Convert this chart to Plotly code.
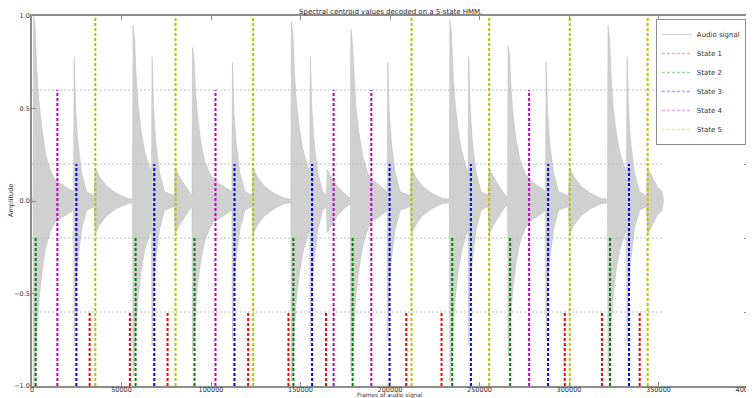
import plotly.graph_objects as go

# ---------------- data ----------------
title = "Spectral centroid values decoded on a 5-state HMM."
x_label = "Frames of audio signal"
y_label = "Amplitude"

x_ticks = [0, 50000, 100000, 150000, 200000, 250000, 300000, 350000, 400000]
x_ticktext = ["0", "50000", "100000", "150000", "200000", "250000", "300000", "350000", "400000"]
y_ticks = [-1.0, -0.5, 0.0, 0.5, 1.0]
y_ticktext = ["\u22121.0", "\u22120.5", "0.0", "0.5", "1.0"]
state_ticks = [0, 1, 2, 3, 4, 5]
state_ticktext = ["0", "1", "2", "3", "4", "5"]

signal_length = 352800
grid_levels = [1, 2, 3, 4]

# frames at which each decoded state starts (vertical marks)
state1_frames = [32200, 54690, 75730, 120750, 143260, 164270, 209080, 228780, 297640, 318450, 339490]
state2_frames = [2065, 57865, 90787, 146029, 179118, 234751, 267115, 322915]
state3_frames = [24775, 68299, 113107, 156463, 199764, 245185, 288319, 333517]
state4_frames = [14173, 102505, 168516, 189553, 277717]
state5_frames = [35377, 80185, 123541, 212040, 255397, 300427, 343951]

# audio-signal envelope (frame, peak amplitude)
env_frames = [
    0, 670, 949, 1786, 2623, 3739, 5413, 7645, 10435, 13225, 16573, 19921, 23269, 23548, 24385, 25501,
    27733, 30523, 34708, 35377, 37777, 41683, 47263, 53401, 56191,
    56470, 57307, 58144, 59260, 60934, 62887, 65119, 66793, 67072, 67909, 69025, 71257, 74047, 79348,
    80017, 82417, 85765, 89392,
    89671, 90508, 91345, 92461, 94135, 96367, 99157, 101947, 105295, 108643, 111712, 111991, 112828,
    113944, 116176, 118966, 122872, 123541, 125941, 129847, 135427, 141007, 144634,
    144913, 145750, 146587, 147703, 149377, 151330, 153562, 155236, 155515, 156352, 157468, 159700,
    162490, 164443, 165001, 167233, 170581, 174487, 177835,
    178114, 178951, 179788, 180904, 182578, 184810, 187600, 190390, 193459, 196249, 198481, 198760,
    199597, 200713, 202945, 205735, 211203, 211873, 214384, 218011, 223591, 229171, 233188,
    233467, 234304, 235141, 236257, 237931, 239884, 242005, 243679, 243958, 244795, 245911, 248143,
    250933, 254727, 255397, 257908, 260977, 263767, 265720,
    265999, 266836, 267673, 268789, 270463, 272695, 275485, 278275, 281623, 284413, 286924, 287203,
    288040, 289156, 291388, 294178, 299646, 300316, 302827, 306733, 312313, 317893, 321520,
    321799, 322636, 323473, 324589, 326263, 328216, 330448, 332122, 332401, 333238, 334354, 336586,
    339376, 343282, 343952, 346352, 349142, 351932, 352800,
]
env_amp = [
    0.0, 0.02, 1.0, 0.93, 0.72, 0.55, 0.4, 0.25, 0.16, 0.11, 0.09, 0.07, 0.05, 0.78, 0.5, 0.33,
    0.15, 0.05, 0.03, 0.18, 0.13, 0.08, 0.04, 0.015, 0.01,
    0.95, 0.88, 0.68, 0.52, 0.38, 0.27, 0.2, 0.15, 0.78, 0.5, 0.33, 0.15, 0.05, 0.03,
    0.18, 0.13, 0.08, 0.03,
    0.83, 0.77, 0.6, 0.46, 0.33, 0.22, 0.15, 0.11, 0.09, 0.07, 0.05, 0.75, 0.48,
    0.32, 0.15, 0.05, 0.03, 0.18, 0.13, 0.08, 0.04, 0.015, 0.01,
    0.97, 0.9, 0.7, 0.53, 0.39, 0.28, 0.2, 0.15, 0.78, 0.5, 0.33, 0.15,
    0.05, 0.03, 0.17, 0.13, 0.08, 0.04, 0.015,
    0.93, 0.86, 0.67, 0.51, 0.37, 0.24, 0.15, 0.11, 0.09, 0.07, 0.05, 0.75,
    0.48, 0.32, 0.15, 0.05, 0.03, 0.18, 0.13, 0.08, 0.04, 0.015, 0.01,
    0.98, 0.91, 0.71, 0.54, 0.39, 0.28, 0.2, 0.15, 0.78, 0.5, 0.33, 0.15,
    0.05, 0.03, 0.18, 0.13, 0.08, 0.04, 0.02,
    0.84, 0.78, 0.6, 0.46, 0.33, 0.22, 0.15, 0.11, 0.09, 0.07, 0.05, 0.75,
    0.48, 0.32, 0.15, 0.05, 0.03, 0.18, 0.13, 0.08, 0.04, 0.015, 0.01,
    0.95, 0.88, 0.68, 0.52, 0.38, 0.27, 0.2, 0.15, 0.78, 0.5, 0.33, 0.15,
    0.05, 0.03, 0.18, 0.13, 0.08, 0.05, 0.0,
]

state_names = ["State 1", "State 2", "State 3", "State 4", "State 5"]
state_levels = [1, 2, 3, 4, 5]
state_frames = [state1_frames, state2_frames, state3_frames, state4_frames, state5_frames]
state_colors = ["rgb(255,0,0)", "rgb(0,128,0)", "rgb(0,0,255)", "rgb(191,0,191)", "rgb(191,191,0)"]
legend_colors = ["rgba(255,0,0,0.35)", "rgba(0,128,0,0.35)", "rgba(0,0,255,0.35)",
                 "rgba(191,0,191,0.35)", "rgba(191,191,0,0.35)"]

FONT = "DejaVu Sans"
fig = go.Figure()

# audio waveform as filled envelope
fig.add_trace(go.Scatter(x=env_frames, y=env_amp, mode="lines",
                         line=dict(color="rgb(192,192,192)", width=0.6),
                         showlegend=False, hoverinfo="skip"))
fig.add_trace(go.Scatter(x=env_frames, y=[-a for a in env_amp], mode="lines",
                         line=dict(color="rgb(192,192,192)", width=0.6),
                         fill="tonexty", fillcolor="rgb(208,208,208)",
                         showlegend=False, hoverinfo="skip"))

# horizontal dotted levels (state axis)
gx, gy = [], []
for lv in grid_levels:
    gx += [0, signal_length, None]
    gy += [lv, lv, None]
fig.add_trace(go.Scatter(x=gx, y=gy, yaxis="y2", mode="lines",
                         line=dict(color="rgb(190,190,190)", width=1, dash="2px,2px"),
                         showlegend=False, hoverinfo="skip"))

# state vertical marks
for name, lv, frames, col in zip(state_names, state_levels, state_frames, state_colors):
    xs, ys = [], []
    for f in frames:
        xs += [f, f, None]
        ys += [0, lv, None]
    fig.add_trace(go.Scatter(x=xs, y=ys, yaxis="y2", mode="lines",
                             line=dict(color=col, width=2, dash="3px,2px"),
                             showlegend=False, hoverinfo="skip"))

# legend entries
fig.add_trace(go.Scatter(x=[None], y=[None], mode="lines", name="Audio signal",
                         line=dict(color="rgb(215,215,215)", width=1.5)))
for name, col in zip(state_names, legend_colors):
    fig.add_trace(go.Scatter(x=[None], y=[None], yaxis="y2", mode="lines", name=name,
                             line=dict(color=col, width=1.5, dash="3px,2px")))

axis_common = dict(showgrid=False, zeroline=False, showline=True, linecolor="rgb(140,140,140)",
                   linewidth=1.5, ticks="inside", ticklen=4, tickcolor="rgb(140,140,140)",
                   automargin=False, ticklabeloverflow="allow",
                   tickfont=dict(family=FONT, size=6.5, color="#333"))

# the page adds an 8px body margin; the plot area is placed so it lands at
# x 32..748, y 16..386 of the 754x398 window (right axis labels run off the edge)
fig.update_layout(
    width=760, height=390,
    margin=dict(l=24, r=20, t=8, b=12, autoexpand=False),
    plot_bgcolor="white", paper_bgcolor="white",
    font=dict(family=FONT, size=7, color="#333"),
    xaxis=dict(range=[0, 400000], tickvals=x_ticks, ticktext=x_ticktext, mirror="ticks",
               ticklabelstandoff=-4, **axis_common),
    yaxis=dict(range=[-1, 1], tickvals=y_ticks, ticktext=y_ticktext,
               ticklabelstandoff=-1, **axis_common),
    yaxis2=dict(range=[0, 5], tickvals=state_ticks, ticktext=state_ticktext,
                overlaying="y", side="right", ticklabelstandoff=-1, **axis_common),
    legend=dict(x=0.997, xanchor="right", y=0.992, yanchor="top", bgcolor="white",
                bordercolor="rgb(140,140,140)", borderwidth=1, traceorder="normal",
                font=dict(family=FONT, size=7, color="#333"),
                tracegroupgap=0, itemwidth=30),
    annotations=[
        dict(text=title, xref="paper", yref="paper", x=0.5, y=1, yshift=4,
             xanchor="center", yanchor="middle", showarrow=False,
             font=dict(family=FONT, size=7, color="#222")),
        dict(text=x_label, xref="paper", yref="paper", x=0.5, y=0, yshift=-9.5,
             xanchor="center", yanchor="middle", showarrow=False,
             font=dict(family=FONT, size=5.8, color="#333")),
        dict(text=y_label, xref="paper", yref="paper", x=0, y=0.5, xshift=-21,
             xanchor="center", yanchor="middle", textangle=-90, showarrow=False,
             font=dict(family=FONT, size=6.5, color="#333")),
    ],
)

fig.write_html("out.html")
